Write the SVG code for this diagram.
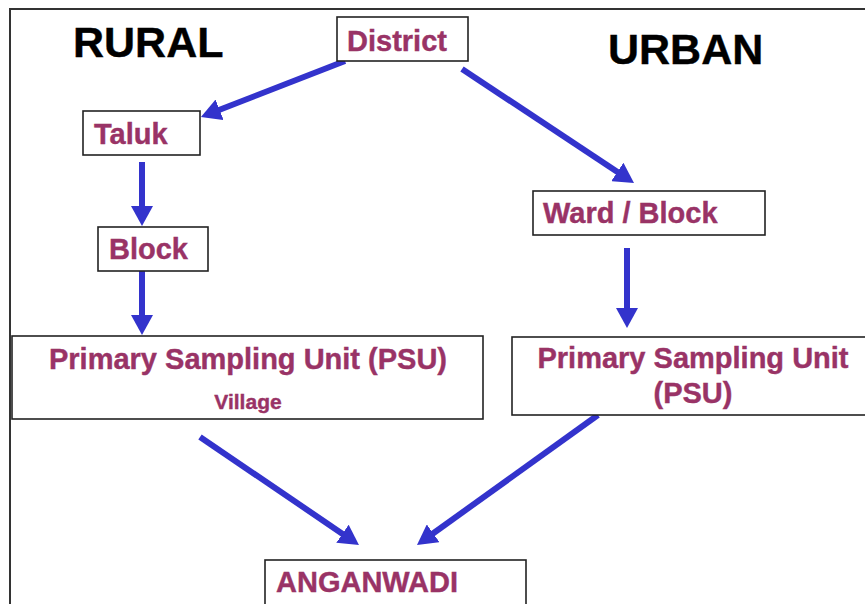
<svg xmlns="http://www.w3.org/2000/svg" width="865" height="604" viewBox="0 0 865 604">
<style>
.box{fill:#fff;stroke:#222;stroke-width:1.6}
.lbl{font-family:"Liberation Sans",Arial,sans-serif;font-weight:bold;font-size:29px;fill:#993366;stroke:#993366;stroke-width:0.4}
.title{font-family:"Liberation Sans",Arial,sans-serif;font-weight:bold;font-size:43px;fill:#000;stroke:#000;stroke-width:0.4}
.arr{stroke:#3333cc;stroke-width:6;fill:none;marker-end:url(#ah)}
</style>
<defs>
<marker id="ah" markerUnits="userSpaceOnUse" viewBox="0 0 20 22" markerWidth="20" markerHeight="22" refX="2" refY="11" orient="auto">
<path d="M0,0 L20,11 L0,22 z" fill="#3333cc"/>
</marker>
</defs>
<rect width="865" height="604" fill="#fff"/>
<path d="M10,620 L10,9 L870,9" fill="none" stroke="#333" stroke-width="2"/>
<text class="title" x="73" y="57">RURAL</text>
<text class="title" x="608" y="64">URBAN</text>
<g id="connectors">
<line class="arr" x1="345" y1="61" x2="217.7" y2="110.5"/>
<line class="arr" x1="142" y1="162" x2="142" y2="208"/>
<line class="arr" x1="142" y1="271" x2="142" y2="317"/>
<line class="arr" x1="462" y1="69" x2="619" y2="173"/>
<line class="arr" x1="627" y1="248" x2="627" y2="310"/>
<line class="arr" x1="200" y1="437" x2="344.1" y2="534.9"/>
<line class="arr" x1="598" y1="415" x2="431.6" y2="534.5"/>
</g>
<g id="district">
<rect class="box" x="337" y="17" width="131" height="44"/>
<text class="lbl" x="347" y="51">District</text>
</g>
<g id="taluk">
<rect class="box" x="83" y="111" width="117" height="44"/>
<text class="lbl" x="94" y="144">Taluk</text>
</g>
<g id="block">
<rect class="box" x="98" y="227" width="110" height="44"/>
<text class="lbl" x="109" y="259">Block</text>
</g>
<g id="rural-psu">
<rect class="box" x="12" y="336" width="471" height="83"/>
<text class="lbl" x="248" y="369" text-anchor="middle">Primary Sampling Unit (PSU)</text>
<text class="lbl" x="248" y="409" text-anchor="middle" style="font-size:21px">Village</text>
</g>
<g id="ward-block">
<rect class="box" x="533" y="191" width="232" height="44"/>
<text class="lbl" x="543" y="223">Ward / Block</text>
</g>
<g id="urban-psu">
<rect class="box" x="512" y="337" width="360" height="78"/>
<text class="lbl" x="693" y="368" text-anchor="middle">Primary Sampling Unit</text>
<text class="lbl" x="693" y="403" text-anchor="middle">(PSU)</text>
</g>
<g id="anganwadi">
<rect class="box" x="265" y="560" width="261" height="60"/>
<text class="lbl" x="276" y="592">ANGANWADI</text>
</g>
</svg>
